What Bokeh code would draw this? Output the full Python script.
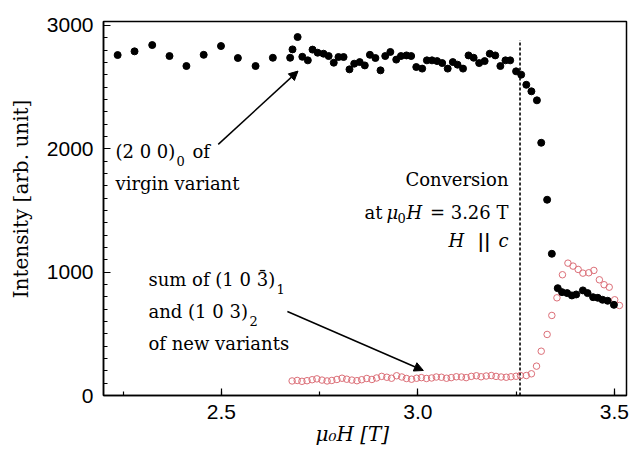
from bokeh.plotting import figure
from bokeh.models import (Range1d, SingleIntervalTicker, NumeralTickFormatter,
                          Label, Arrow, NormalHead)
from bokeh.embed import file_html
from bokeh.resources import INLINE

# ---------------- data ----------------
# (2 0 0)_0 of virgin variant (filled black)
black_field = [2.236, 2.279, 2.324, 2.368, 2.411, 2.455, 2.499, 2.542, 2.587, 2.631, 2.675,
               2.681, 2.694, 2.706, 2.720, 2.732, 2.745, 2.760, 2.773, 2.786, 2.798,
               2.811, 2.826, 2.838, 2.852, 2.865, 2.878, 2.892, 2.905, 2.917, 2.930,
               2.945, 2.957, 2.971, 2.983, 2.996, 3.011, 3.023, 3.036, 3.049, 3.062,
               3.076, 3.089, 3.101, 3.115, 3.129, 3.142, 3.156, 3.170, 3.183, 3.197,
               3.210, 3.223, 3.235, 3.250, 3.263, 3.276, 3.289, 3.303, 3.314, 3.329,
               3.341, 3.356, 3.367, 3.380, 3.392, 3.403, 3.420, 3.432, 3.446, 3.458,
               3.470, 3.483, 3.499]
black_intensity = [2760, 2790, 2841, 2752, 2671, 2762, 2833, 2736, 2671, 2738, 2738,
                   2806, 2906, 2746, 2717, 2804, 2779, 2771, 2752, 2698, 2744,
                   2744, 2644, 2690, 2703, 2676, 2762, 2736, 2636, 2752, 2785,
                   2723, 2752, 2757, 2752, 2663, 2650, 2717, 2717, 2711, 2695,
                   2650, 2703, 2682, 2650, 2757, 2738, 2695, 2711, 2771, 2757,
                   2671, 2717, 2717, 2628, 2601, 2519, 2466, 2393, 2049, 1587,
                   1149, 870, 838, 830, 811, 819, 852, 830, 797, 792,
                   776, 768, 735]

# sum of (1 0 -3)_1 and (1 0 3)_2 of new variants (open red)
red_field = [2.680, 2.693, 2.705, 2.718, 2.731, 2.743, 2.756, 2.769, 2.781, 2.794,
             2.807, 2.819, 2.832, 2.845, 2.857, 2.870, 2.883, 2.895, 2.908, 2.921,
             2.933, 2.946, 2.959, 2.971, 2.984, 2.997, 3.009, 3.022, 3.035, 3.047,
             3.060, 3.073, 3.085, 3.098, 3.111, 3.123, 3.136, 3.149, 3.161, 3.174,
             3.187, 3.199, 3.212, 3.225, 3.237, 3.250, 3.261, 3.276, 3.289, 3.302,
             3.314, 3.329, 3.341, 3.354, 3.368, 3.382, 3.395, 3.408, 3.420, 3.435,
             3.448, 3.462, 3.474, 3.487, 3.501, 3.513]
red_intensity = [118, 122, 115, 120, 128, 135, 125, 118, 122, 130,
                 140, 132, 125, 120, 128, 138, 130, 142, 155, 148,
                 140, 160, 150, 138, 132, 140, 145, 138, 142, 150,
                 148, 140, 145, 152, 150, 145, 155, 160, 152, 158,
                 162, 155, 150, 148, 152, 156, 162, 162, 176, 238,
                 359, 495, 649, 792, 979, 1073, 1049, 1022, 992, 995,
                 1014, 938, 898, 878, 776, 730]

conversion_field = 3.26      # T
conversion_line_top = 2880   # intensity where the marker line ends

x_limits = (2.2, 3.531)
y_limits = (0, 3032)

NBSP = "\u00a0"

# ---------------- figure ----------------
p = figure(width=640, height=453, output_backend="svg", toolbar_location=None,
           x_range=Range1d(*x_limits), y_range=Range1d(*y_limits),
           min_border_left=103, min_border_right=14, min_border_top=21,
           min_border_bottom=58)
p.background_fill_color = "white"
p.border_fill_color = "white"
p.grid.visible = False
p.outline_line_color = "black"
p.outline_line_width = 1.5

p.xaxis.ticker = SingleIntervalTicker(interval=0.5, num_minor_ticks=2)
p.yaxis.ticker = SingleIntervalTicker(interval=1000, num_minor_ticks=10)
p.xaxis.formatter = NumeralTickFormatter(format="0.0")
for ax in (p.xaxis, p.yaxis):
    ax.axis_line_width = 1.5
    ax.axis_line_color = "black"
    ax.major_tick_in = 7
    ax.major_tick_out = 0
    ax.minor_tick_in = 4
    ax.minor_tick_out = 0
    ax.major_tick_line_width = 1.2
    ax.minor_tick_line_width = 1.2
    ax.major_tick_line_color = "black"
    ax.minor_tick_line_color = "black"
    ax.major_label_text_font = "Liberation Sans"
    ax.major_label_text_font_size = "21px"
    ax.major_label_text_color = "black"
    ax.axis_label_text_font = "DejaVu Serif"
    ax.axis_label_text_font_size = "20px"
    ax.axis_label_text_color = "black"
p.yaxis.major_label_standoff = 10
p.xaxis.major_label_standoff = 9

p.xaxis.axis_label = "\u03bc\u2080H [T]" + NBSP * 4
p.xaxis.axis_label_text_font_style = "italic"
p.xaxis.axis_label_standoff = 0
p.yaxis.axis_label = NBSP * 3 + "Intensity [arb. unit]"
p.yaxis.axis_label_text_font_style = "normal"
p.yaxis.axis_label_standoff = 11

# conversion marker
p.segment(x0=[conversion_field], y0=[y_limits[0]], x1=[conversion_field],
          y1=[conversion_line_top], line_color="black", line_width=1.6,
          line_dash="3 2")

# data series
p.scatter(red_field, red_intensity, marker="circle", size=6.5,
          fill_color=None, line_color="#dc6f78", line_width=1)
p.scatter(black_field, black_intensity, marker="circle", size=7,
          fill_color="black", line_color="black")

# arrows
p.add_layout(Arrow(end=NormalHead(size=9, fill_color="black", line_color="black"),
                   x_start=2.492, y_start=2036, x_end=2.695, y_end=2630,
                   line_width=1.5, line_color="black"))
p.add_layout(Arrow(end=NormalHead(size=9, fill_color="black", line_color="black"),
                   x_start=2.668, y_start=681, x_end=3.014, y_end=203,
                   line_width=1.5, line_color="black"))

SERIF = "DejaVu Serif"


def lab(text, x, y, size=18, style="normal", align="left", font=SERIF):
    p.add_layout(Label(x=x, y=y, x_units="screen", y_units="screen", text=text,
                       text_font=font, text_font_size=f"{size}px",
                       text_font_style=style, text_align=align,
                       text_baseline="alphabetic", text_color="black"))


# annotation 1
lab("(2 0 0)", 12, 244)
lab("0", 73, 235, size=13)
lab("of", 89, 244)
lab("virgin variant", 12, 212)

# annotation 2
lab("sum of (1 0 3)", 45, 116)
lab("\u00af", 159, 118, align="center")
lab("1", 173, 107, size=13)
lab("and (1 0 3)", 45, 84)
lab("2", 146, 75, size=13)
lab("of new variants", 45, 52)

# annotation 3
lab("Conversion", 405, 216, align="right")
lab("at", 279, 183, align="right")
lab("\u03bc", 283, 183, style="italic")
lab("0", 294, 178, size=13)
lab("H", 303, 183, style="italic")
lab("= 3.26 T", 405, 183, align="right")
lab("H", 345, 155, style="italic")
lab("||", 374, 155, style="bold")
lab("c", 405, 155, style="italic", align="right")

open("out.html", "w").write(file_html(p, INLINE))
